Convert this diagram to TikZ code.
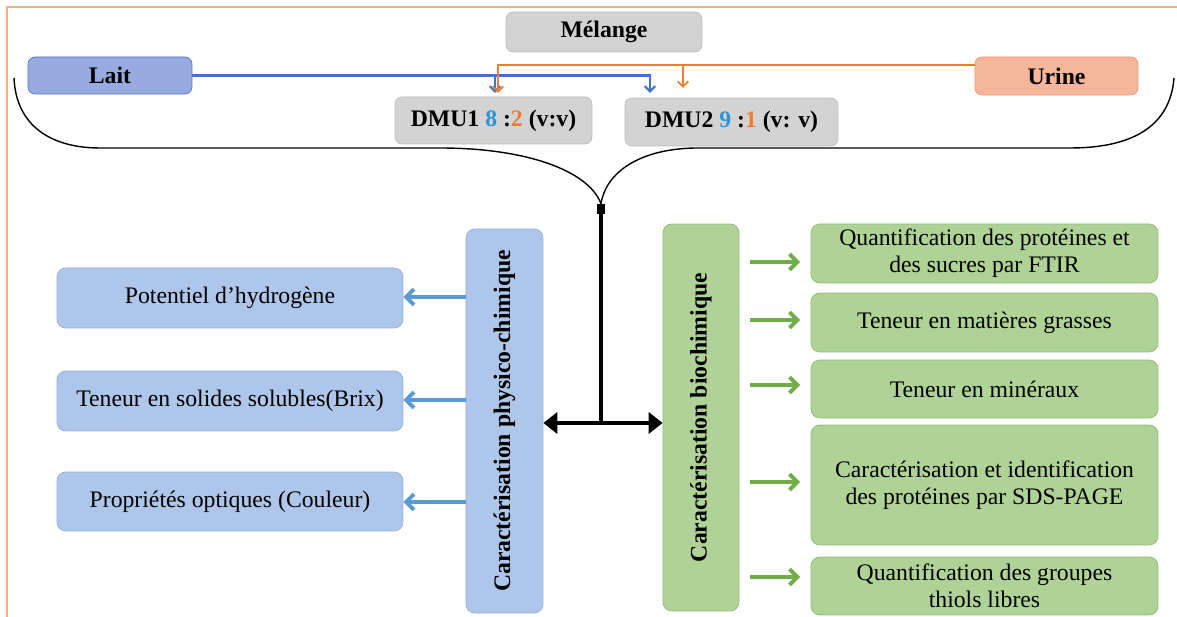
\documentclass[tikz,border=0pt]{standalone}
\usepackage{fontspec}
\setmainfont{Liberation Serif}
\usepackage{graphicx}
\usetikzlibrary{arrows.meta,positioning,calc}

\definecolor{framecol}{HTML}{F4B183}
\definecolor{greyfill}{HTML}{D3D3D3}
\definecolor{greyedge}{HTML}{BEBEBE}
\definecolor{laitfill}{HTML}{97ABE0}
\definecolor{laitedge}{HTML}{5873BC}
\definecolor{urinefill}{HTML}{F5B69C}
\definecolor{urineedge}{HTML}{E8976F}
\definecolor{pcfill}{HTML}{ADC6E9}
\definecolor{pcedge}{HTML}{93B1DE}
\definecolor{biofill}{HTML}{AFD397}
\definecolor{bioedge}{HTML}{8DBB72}
\definecolor{milkline}{HTML}{4472C4}
\definecolor{urineline}{HTML}{ED7D31}
\definecolor{pcarrow}{HTML}{5B9BD5}
\definecolor{bioarrow}{HTML}{70AD47}
\definecolor{digitblue}{HTML}{2E95D3}

\begin{document}
\begin{tikzpicture}[x=0.02cm, y=-0.02cm,
  labelfont/.style={font=\fontsize{13.5}{15.5}\selectfont\bfseries},
  textfont/.style={font=\fontsize{13.5}{15.5}\selectfont},
  greybox/.style={draw=greyedge, fill=greyfill, rounded corners=4pt, inner sep=0pt, labelfont},
  laitbox/.style={draw=laitedge, fill=laitfill, rounded corners=4pt, inner sep=0pt, labelfont},
  urinebox/.style={draw=urineedge, fill=urinefill, rounded corners=4pt, inner sep=0pt, labelfont},
  pcbox/.style={draw=pcedge, fill=pcfill, rounded corners=5pt, inner sep=0pt, align=center, textfont},
  biobox/.style={draw=bioedge, fill=biofill, rounded corners=5pt, inner sep=0pt, align=center, textfont},
  milk/.style={milkline, line width=1.3pt, -{Straight Barb[length=3pt,width=6pt]}},
  urin/.style={urineline, line width=1.1pt, -{Straight Barb[length=3pt,width=6pt]}},
  pcarr/.style={pcarrow, line width=2.2pt, -{Straight Barb[length=4.5pt,width=9pt]}},
  bioarr/.style={bioarrow, line width=2.2pt, -{Straight Barb[length=4.5pt,width=9pt]}, shorten <=6, shorten >=6},
  trunk/.style={line width=2.5pt, black},
  brace/.style={line width=0.8pt, black}
]
\useasboundingbox (0,0) rectangle (1177,617);

% frame
\draw[framecol, line width=1.3pt] (7,617) -- (7,7) -- (1177,7);

% sources and mixtures
\node[greybox, minimum width=3.92cm, minimum height=0.8cm] (melange) at (604,32) {Mélange};
\node[laitbox, minimum width=3.28cm, minimum height=0.74cm] (lait) at (110,75.5) {Lait};
\node[urinebox, minimum width=3.26cm, minimum height=0.76cm] (urine) at (1056.5,76) {Urine};
\node[greybox, minimum width=3.94cm, minimum height=0.94cm] (dmu1) at (493.5,120.5)
  {DMU1 \textcolor{digitblue}{8} :\textcolor{urineline}{2} (v:v)};
\node[greybox, minimum width=4.26cm, minimum height=0.96cm] (dmu2) at (731.5,122)
  {DMU2 \textcolor{digitblue}{9} :\textcolor{urineline}{1} (v: v)};

\coordinate (b1) at (495,93);
\coordinate (b2) at (650,93);
\coordinate (o1) at (498,93);
\coordinate (o2) at (683,88);
\coordinate (otop) at (urine.west |- 0,65);

\draw[milk] (lait.east) -| (b2);
\draw[milk] (lait.east -| b1) -- (b1);
\draw[urin] (otop) -| (o1);
\draw[urin] (o2 |- otop) -- (o2);

% brace
\node[fill=black, inner sep=0pt, minimum width=0.16cm, minimum height=0.2cm] (knot) at (601,209) {};
\draw[brace] (14,78) .. controls (16,125) and (50,148) .. (100,148) -- (440,148)
  .. controls (525,148) and (588,170) .. (knot.north);
\draw[brace] (1174,78) .. controls (1170,128) and (1130,148) .. (1070,148) -- (695,148)
  .. controls (640,149) and (606,172) .. (knot.north);

% the two branches
\node[pcbox, minimum width=1.54cm, minimum height=7.68cm, font=\fontsize{13.5}{15.5}\selectfont\bfseries] (physico) at (504.5,421)
  {\rotatebox{90}{Caractérisation physico-chimique}};
\node[biobox, minimum width=1.52cm, minimum height=7.74cm, font=\fontsize{13.5}{15.5}\selectfont\bfseries] (bio) at (701,417.5)
  {\rotatebox{90}{Caractérisation biochimique}};

\coordinate (hub) at (601,423);
\draw[trunk] (knot.south) -- (hub);
\draw[trunk, {Triangle[length=8pt,width=12pt]}-{Triangle[length=8pt,width=12pt]}] (physico.east |- hub) -- (bio.west |- hub);

% physico-chimique
\node[pcbox, minimum width=6.92cm, minimum height=1.2cm] (ph) at (230,298) {Potentiel d’hydrogène};
\node[pcbox, minimum width=6.92cm, minimum height=1.2cm] (brix) at (230,401) {Teneur en solides solubles(Brix)};
\node[pcbox, minimum width=6.92cm, minimum height=1.18cm] (color) at (230,501.5) {Propriétés optiques (Couleur)};

\draw[pcarr] (physico.west |- 0,297) -- (ph.east |- 0,297);
\draw[pcarr] (physico.west |- 0,400) -- (brix.east |- 0,400);
\draw[pcarr] (physico.west |- 0,502) -- (color.east |- 0,502);

% biochimique
\node[biobox, minimum width=6.94cm, minimum height=1.18cm] (ftir) at (984.5,253.5)
  {Quantification des protéines et\\des sucres par FTIR};
\node[biobox, minimum width=6.94cm, minimum height=1.18cm] (fat) at (984.5,322.5) {Teneur en matières grasses};
\node[biobox, minimum width=6.94cm, minimum height=1.16cm] (mineral) at (984.5,389) {Teneur en minéraux};
\node[biobox, minimum width=6.94cm, minimum height=2.4cm] (sds) at (984.5,485)
  {Caractérisation et identification\\des protéines par SDS-PAGE};
\node[biobox, minimum width=6.94cm, minimum height=1.16cm] (thiol) at (984.5,586)
  {Quantification des groupes\\thiols libres};

\draw[bioarr] (bio.east |- 0,262) -- (ftir.west |- 0,262);
\draw[bioarr] (bio.east |- 0,320) -- (fat.west |- 0,320);
\draw[bioarr] (bio.east |- 0,385) -- (mineral.west |- 0,385);
\draw[bioarr] (bio.east |- 0,482) -- (sds.west |- 0,482);
\draw[bioarr] (bio.east |- 0,577) -- (thiol.west |- 0,577);

\end{tikzpicture}
\end{document}
